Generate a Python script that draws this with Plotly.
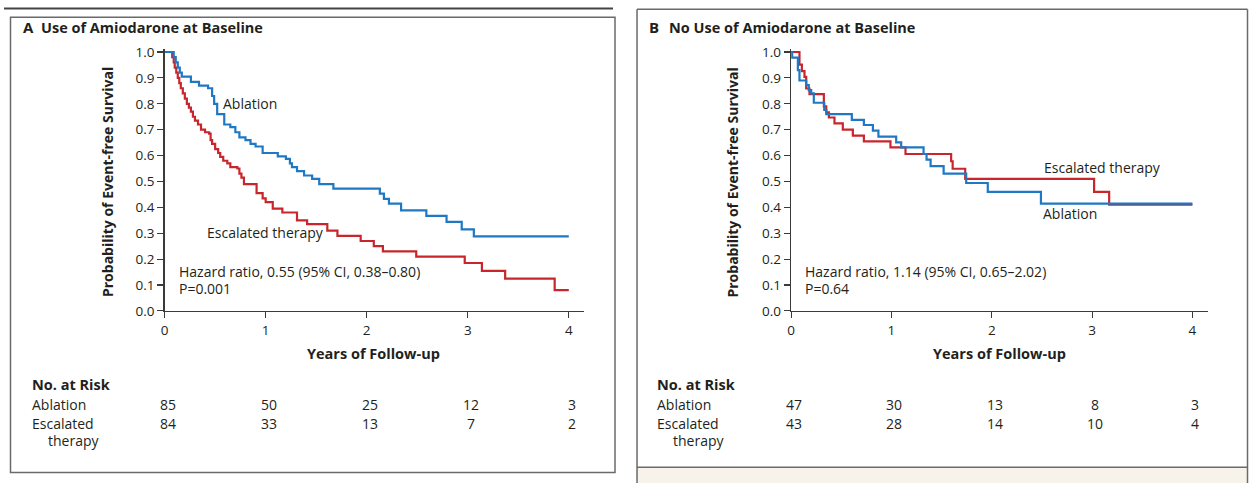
import plotly.graph_objects as go

W, H = 1254, 483

# ---------------- data ----------------
# Panel A: Use of Amiodarone at Baseline
a_abl_t = [0, 0.09, 0.11, 0.13, 0.15, 0.17, 0.26, 0.34, 0.43, 0.47, 0.49, 0.52, 0.59, 0.65, 0.70,
           0.74, 0.80, 0.85, 0.90, 0.97, 1.12, 1.20, 1.24, 1.26, 1.31, 1.38, 1.46, 1.53, 1.67,
           2.13, 2.17, 2.22, 2.34, 2.59, 2.79, 2.94, 3.06, 4.0]
a_abl_s = [1.0, 0.98, 0.96, 0.94, 0.92, 0.905, 0.885, 0.87, 0.86, 0.83, 0.80, 0.76, 0.72, 0.71, 0.69,
           0.67, 0.66, 0.645, 0.635, 0.61, 0.597, 0.587, 0.57, 0.555, 0.54, 0.523, 0.51, 0.49, 0.472,
           0.453, 0.433, 0.414, 0.388, 0.367, 0.344, 0.315, 0.288, 0.288]

a_esc_t = [0, 0.075, 0.09, 0.10, 0.115, 0.13, 0.145, 0.16, 0.18, 0.20, 0.22, 0.24, 0.26, 0.28, 0.30,
           0.33, 0.36, 0.40, 0.44, 0.455, 0.47, 0.50, 0.53, 0.55, 0.58, 0.62, 0.65, 0.72, 0.74, 0.76,
           0.785, 0.91, 0.97, 1.0, 1.07, 1.165, 1.31, 1.41, 1.61, 1.71, 1.94, 2.07, 2.16, 2.49, 2.97,
           3.14, 3.37, 3.86, 4.0]
a_esc_s = [1.0, 0.98, 0.96, 0.94, 0.92, 0.90, 0.88, 0.86, 0.84, 0.82, 0.80, 0.785, 0.77, 0.75, 0.735,
           0.72, 0.70, 0.69, 0.685, 0.66, 0.645, 0.625, 0.61, 0.595, 0.58, 0.57, 0.555, 0.55, 0.53, 0.515,
           0.49, 0.455, 0.435, 0.42, 0.395, 0.38, 0.35, 0.335, 0.31, 0.29, 0.27, 0.25, 0.23, 0.21, 0.185,
           0.155, 0.125, 0.08, 0.08]

# Panel B: No Use of Amiodarone at Baseline
b_abl_t = [0, 0.01, 0.067, 0.083, 0.15, 0.176, 0.20, 0.226, 0.33, 0.35, 0.605, 0.725, 0.815, 0.87,
           1.047, 1.097, 1.32, 1.35, 1.39, 1.52, 1.745, 1.96, 2.49, 4.0]
b_abl_s = [1.0, 0.978, 0.93, 0.89, 0.872, 0.853, 0.84, 0.804, 0.776, 0.76, 0.738, 0.718, 0.696, 0.673,
           0.651, 0.632, 0.606, 0.584, 0.559, 0.53, 0.494, 0.46, 0.414, 0.414]

b_esc_t = [0, 0.083, 0.107, 0.133, 0.15, 0.183, 0.326, 0.35, 0.376, 0.432, 0.515, 0.615, 0.725, 0.99,
           1.14, 1.595, 1.61, 1.735, 3.02, 3.17, 4.0]
b_esc_s = [1.0, 0.951, 0.926, 0.904, 0.859, 0.837, 0.79, 0.767, 0.747, 0.724, 0.70, 0.677, 0.655, 0.632,
           0.606, 0.578, 0.549, 0.51, 0.46, 0.41, 0.41]

risk_years = [0, 1, 2, 3, 4]
a_risk_abl = [85, 50, 25, 12, 3]
a_risk_esc = [84, 33, 13, 7, 2]
b_risk_abl = [47, 30, 13, 8, 3]
b_risk_esc = [43, 28, 14, 10, 4]

x_ticks = [0, 1, 2, 3, 4]
y_ticks = [0.0, 0.1, 0.2, 0.3, 0.4, 0.5, 0.6, 0.7, 0.8, 0.9, 1.0]
y_ticktext = ["0.0", "0.1", "0.2", "0.3", "0.4", "0.5", "0.6", "0.7", "0.8", "0.9", "1.0"]

title_a = "Use of Amiodarone at Baseline"
title_b = "No Use of Amiodarone at Baseline"
hr_a = ["Hazard ratio, 0.55 (95% CI, 0.38\u20130.80)", "P=0.001"]
hr_b = ["Hazard ratio, 1.14 (95% CI, 0.65\u20132.02)", "P=0.64"]

# ---------------- style ----------------
BLUE = "#1f78c4"
RED = "#c8262c"
TXT = "#231f20"
AX = "#3a3a3a"
FONT = "Open Sans"

# compensation for the capture geometry (observed offset/scale of the photographed page)
OX, SX = 3.5, 0.996
OY, SY = 5.8, 0.971


def px_x(px):
    return ((px - OX) / SX) / W


def px_y(py):
    v = 1 - ((py - OY) / SY) / H
    return min(max(v, -0.02), 1.0)


fig = go.Figure()

for xa, ya, tt, ss, col in [("x", "y", a_esc_t, a_esc_s, RED), ("x", "y", a_abl_t, a_abl_s, BLUE),
                            ("x2", "y2", b_esc_t, b_esc_s, RED), ("x2", "y2", b_abl_t, b_abl_s, BLUE)]:
    fig.add_trace(go.Scatter(x=tt, y=ss, mode="lines", line=dict(color=col, width=2.2, shape="hv"),
                             xaxis=xa, yaxis=ya, showlegend=False, hoverinfo="skip"))

ydom = [px_y(311), px_y(311 - 1.01 * 260)]

TICKF = dict(family=FONT, size=13.5, color=TXT)
common_x = dict(showline=True, linecolor=AX, linewidth=1.5, ticks="outside", ticklen=6, tickwidth=1.2,
                tickcolor=AX, tickvals=x_ticks, showgrid=False, zeroline=False, tickfont=TICKF,
                fixedrange=True)
common_y = dict(showline=True, linecolor=AX, linewidth=1.5, ticks="outside", ticklen=6, tickwidth=1.2,
                tickcolor=AX, tickvals=y_ticks, ticktext=y_ticktext, showgrid=False, zeroline=False,
                range=[0, 1.01], domain=ydom, tickfont=TICKF, fixedrange=True)

fig.update_layout(
    width=W, height=H, margin=dict(l=0, r=0, t=0, b=0),
    paper_bgcolor="white", plot_bgcolor="white",
    font=dict(family=FONT, color=TXT),
    xaxis=dict(common_x, range=[0, 4.15], domain=[px_x(164), px_x(583)], anchor="y"),
    yaxis=dict(common_y, anchor="x"),
    xaxis2=dict(common_x, range=[0, 4.16], domain=[px_x(790), px_x(1207)], anchor="y2"),
    yaxis2=dict(common_y, anchor="x2"),
)

ann = []


def txt(x, y, s, size=14, bold=False, xanchor="left", xref="paper", yref="paper", angle=0, xshift=0):
    ann.append(dict(x=x, y=y, xref=xref, yref=yref, text=("<b>%s</b>" % s) if bold else s,
                    showarrow=False, xanchor=xanchor, yanchor="middle", textangle=angle, xshift=xshift,
                    font=dict(family=FONT, size=size, color=TXT)))


# panel titles
txt(px_x(20), px_y(26), "A", size=15, bold=True)
txt(px_x(38), px_y(26), title_a, size=14.5, bold=True)
txt(px_x(646), px_y(26), "B", size=15, bold=True)
txt(px_x(666), px_y(26), title_b, size=14.5, bold=True)

for (xr, yr, xc, yc, hr, cx) in [("x", "y", 107, 182, hr_a, 373), ("x2", "y2", 731, 182, hr_b, 998)]:
    txt(px_x(xc), px_y(yc), "Probability of Event-free Survival", size=14, bold=True, angle=-90,
        xanchor="center")
    txt(px_x(cx), px_y(354), "Years of Follow-up", size=14.5, bold=True, xanchor="center")
    txt(0.125 if xr == "x" else 0.115, 0.154, hr[0], xref=xr, yref=yr)
    txt(0.125 if xr == "x" else 0.115, 0.085, hr[1], xref=xr, yref=yr)

# curve labels
txt(0.56, 0.80, "Ablation", xref="x", yref="y")
txt(0.40, 0.304, "Escalated therapy", xref="x", yref="y")
txt(2.50, 0.552, "Escalated therapy", xref="x2", yref="y2")
txt(2.49, 0.375, "Ablation", xref="x2", yref="y2")

# numbers at risk
for (xr, x0, ra, re) in [("x", 29, a_risk_abl, a_risk_esc), ("x2", 654, b_risk_abl, b_risk_esc)]:
    txt(px_x(x0), px_y(385), "No. at Risk", size=14.5, bold=True)
    txt(px_x(x0), px_y(405), "Ablation")
    txt(px_x(x0), px_y(424), "Escalated")
    txt(px_x(x0 + 16), px_y(441), "therapy")
    for yr_, va, ve in zip(risk_years, ra, re):
        txt(yr_, px_y(405), str(va), xref=xr, xanchor="center", xshift=3)
        txt(yr_, px_y(424), str(ve), xref=xr, xanchor="center", xshift=3)

fig.update_layout(annotations=ann)

BORDER = "#6a6a6a"
top_a = min(px_y(3), 1 - 1.5 / H)
shapes = [
    dict(type="line", xref="paper", yref="paper", x0=0, x1=px_x(612), y0=top_a, y1=top_a,
         line=dict(color="#444444", width=2)),
    dict(type="rect", xref="paper", yref="paper", x0=px_x(10), x1=px_x(614), y0=max(px_y(480), 1.5 / H),
         y1=px_y(16), line=dict(color=BORDER, width=1.5)),
    dict(type="rect", xref="paper", yref="paper", x0=px_x(636), x1=px_x(1246), y0=-0.02, y1=px_y(468),
         fillcolor="#f7f3ea", line=dict(width=0), layer="below"),
    dict(type="line", xref="paper", yref="paper", x0=px_x(636), x1=px_x(1246), y0=px_y(8), y1=px_y(8),
         line=dict(color=BORDER, width=1.5)),
    dict(type="line", xref="paper", yref="paper", x0=px_x(636), x1=px_x(1246), y0=px_y(468), y1=px_y(468),
         line=dict(color=BORDER, width=1.5)),
    dict(type="line", xref="paper", yref="paper", x0=px_x(636), x1=px_x(636), y0=-0.02, y1=px_y(8),
         line=dict(color=BORDER, width=1.5)),
    dict(type="line", xref="paper", yref="paper", x0=px_x(1246), x1=px_x(1246), y0=-0.02, y1=px_y(8),
         line=dict(color=BORDER, width=1.5)),
]
fig.update_layout(shapes=shapes)

POST = (
    "var h=document.documentElement,b=document.body;"
    "h.style.margin='0';h.style.padding='0';h.style.overflow='hidden';"
    "b.style.margin='0';b.style.padding='0';b.style.overflow='hidden';"
)

fig.write_html("out.html", config={"displayModeBar": False, "staticPlot": True}, post_script=POST)
